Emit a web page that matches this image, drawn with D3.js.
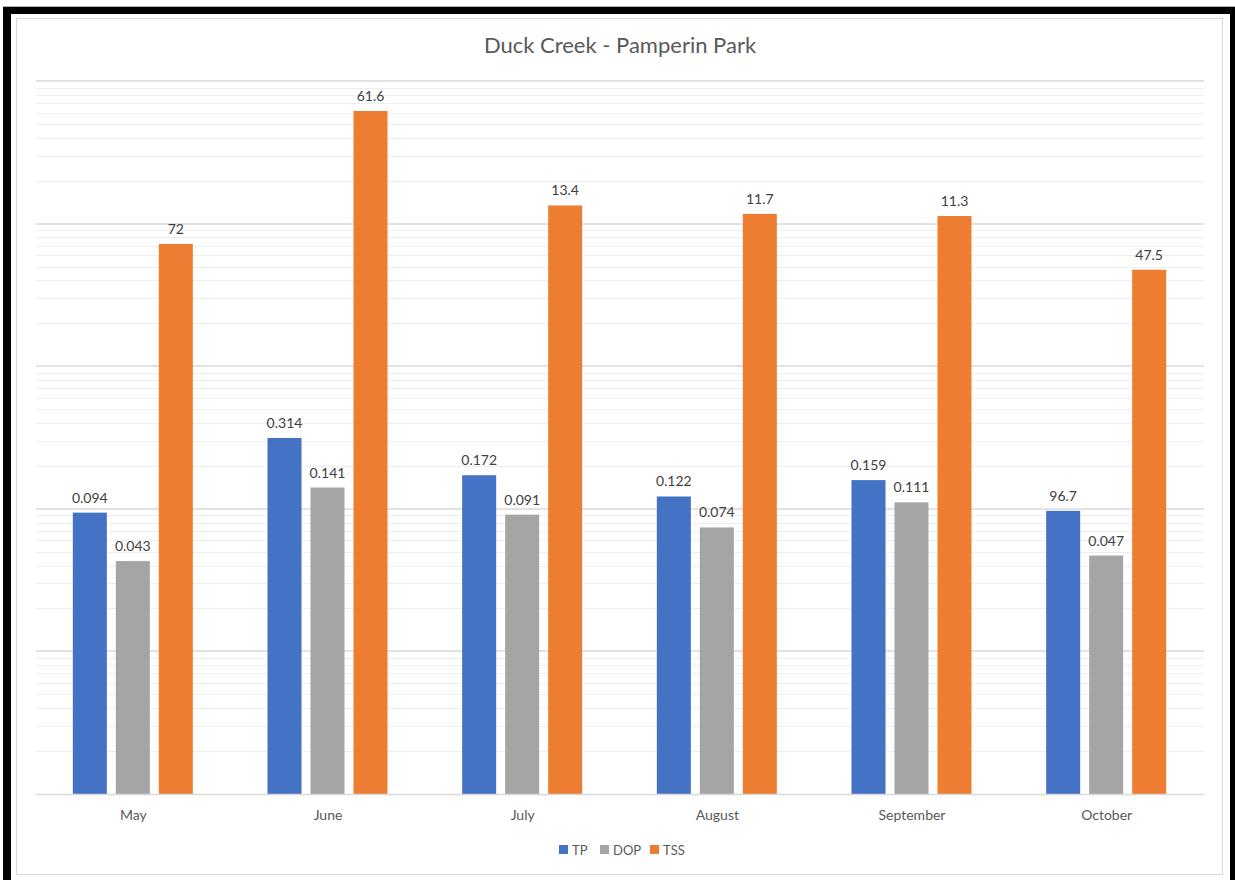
<!DOCTYPE html>
<html>
<head>
<meta charset="utf-8">
<script src="https://cdn.jsdelivr.net/npm/d3@7"></script>
<style>
  html, body { margin: 0; padding: 0; background: #fff; }
  svg { display: block; font-family: Lato, "Open Sans", sans-serif; }
</style>
</head>
<body>
<svg id="chart" width="1235" height="880"></svg>
<script>
// Monthly sampling at Duck Creek - Pamperin Park
const months = ["May", "June", "July", "August", "September", "October"];
const seriesNames = ["TP", "DOP", "TSS"];
const seriesColors = ["#4472c4", "#a5a5a5", "#ed7d31"];

// Plotted values (log axis)
const tpValues  = [0.094, 0.314, 0.172, 0.122, 0.159, 0.0967];
const dopValues = [0.043, 0.141, 0.091, 0.074, 0.111, 0.047];
const tssValues = [7.2, 61.6, 13.4, 11.7, 11.3, 4.75];

// Data label text as entered in the sheet
const tpLabels  = ["0.094", "0.314", "0.172", "0.122", "0.159", "96.7"];
const dopLabels = ["0.043", "0.141", "0.091", "0.074", "0.111", "0.047"];
const tssLabels = ["72", "61.6", "13.4", "11.7", "11.3", "47.5"];

const yDomain = [0.001, 100];

const svg = d3.select("#chart");
const W = 1235, H = 880;

// Outer frame
svg.append("rect").attr("x", 0).attr("y", 0).attr("width", W).attr("height", H).attr("fill", "#fff");
svg.append("line").attr("x1", 3).attr("x2", W).attr("y1", 6.5).attr("y2", 6.5).attr("stroke", "#b0b0b0");
svg.append("rect").attr("x", 3).attr("y", 7).attr("width", W - 3).attr("height", 7).attr("fill", "#000");
svg.append("rect").attr("x", 3).attr("y", 7).attr("width", 8).attr("height", H - 7).attr("fill", "#000");
svg.append("rect").attr("x", 1230).attr("y", 7).attr("width", 5).attr("height", H - 7).attr("fill", "#000");

// Chart area border
svg.append("rect").attr("x", 16.5).attr("y", 18.5).attr("width", 1206).attr("height", 856)
  .attr("fill", "#fff").attr("stroke", "#d9d9d9").attr("stroke-width", 1);

const plot = { left: 36, right: 1204, top: 81, bottom: 794 };

const x0 = d3.scaleBand().domain(months).range([plot.left, plot.right]).paddingInner(0).paddingOuter(0);
const y = d3.scaleLog().domain(yDomain).range([plot.bottom, plot.top]);

// Gridlines: minor (2..9 per decade) then major (decades)
const minorTicks = [];
const majorTicks = [];
for (let e = -3; e <= 2; e++) {
  majorTicks.push(Math.pow(10, e));
  if (e < 2) for (let m = 2; m <= 9; m++) minorTicks.push(m * Math.pow(10, e));
}
const grid = svg.append("g");
grid.selectAll("line.minor").data(minorTicks).enter().append("line")
  .attr("class", "minor")
  .attr("x1", plot.left).attr("x2", plot.right)
  .attr("y1", d => Math.round(y(d)) + 0.5).attr("y2", d => Math.round(y(d)) + 0.5)
  .attr("stroke", "#eeeeee").attr("stroke-width", 1);
grid.selectAll("line.major").data(majorTicks.slice(1)).enter().append("line")
  .attr("class", "major")
  .attr("x1", plot.left).attr("x2", plot.right)
  .attr("y1", d => Math.round(y(d))).attr("y2", d => Math.round(y(d)))
  .attr("stroke", "#d9d9d9").attr("stroke-width", 1.5);

// Bars, three per month, with data labels above each
const barW = 34, barStep = 43;
const series = [
  { name: "TP", values: tpValues, labels: tpLabels, color: seriesColors[0] },
  { name: "DOP", values: dopValues, labels: dopLabels, color: seriesColors[1] },
  { name: "TSS", values: tssValues, labels: tssLabels, color: seriesColors[2] }
];

const bars = svg.append("g");
series.forEach((s, si) => {
  months.forEach((m, i) => {
    const cx = x0(m) + x0.bandwidth() / 2 - 0.5;
    const bx = cx - (3 * barW + 2 * (barStep - barW)) / 2 + si * barStep;
    const top = y(s.values[i]);
    bars.append("rect")
      .attr("x", bx).attr("y", top)
      .attr("width", barW).attr("height", plot.bottom - top)
      .attr("fill", s.color);
    bars.append("text")
      .attr("x", bx + barW / 2).attr("y", top - 10)
      .attr("text-anchor", "middle")
      .attr("font-size", 14)
      .attr("fill", "#404040")
      .text(s.labels[i]);
  });
});

// Category axis
svg.append("line").attr("x1", plot.left).attr("x2", plot.right)
  .attr("y1", plot.bottom + 0.5).attr("y2", plot.bottom + 0.5)
  .attr("stroke", "#d9d9d9").attr("stroke-width", 1.5);
const xAxis = d3.axisBottom(x0).tickSize(0).tickPadding(0);
const xg = svg.append("g").attr("transform", `translate(0, ${plot.bottom})`).call(xAxis);
xg.select(".domain").remove();
xg.selectAll("text")
  .attr("dy", 0).attr("y", 26)
  .attr("font-family", "Lato, 'Open Sans', sans-serif")
  .attr("font-size", 14).attr("fill", "#595959");

// Title
svg.append("text").attr("x", 620).attr("y", 53).attr("text-anchor", "middle")
  .attr("font-size", 22).attr("fill", "#595959").text("Duck Creek - Pamperin Park");

// Legend
const legendX = [559, 600, 650];
const lg = svg.append("g");
series.forEach((s, i) => {
  lg.append("rect").attr("x", legendX[i]).attr("y", 845).attr("width", 9).attr("height", 9).attr("fill", s.color);
  lg.append("text").attr("x", legendX[i] + 13).attr("y", 854.5)
    .attr("font-size", 13).attr("fill", "#595959").text(s.name);
});
</script>
</body>
</html>
